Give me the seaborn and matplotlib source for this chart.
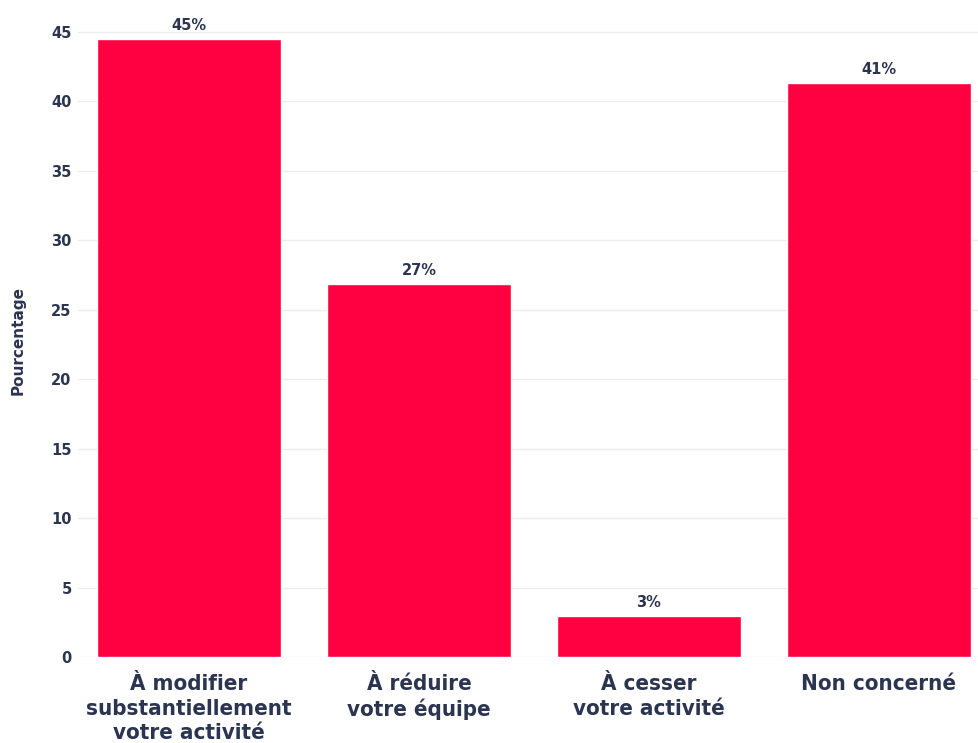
import matplotlib
matplotlib.use("Agg")
import matplotlib.pyplot as plt
import seaborn as sns
import pandas as pd

categories = ["À modifier\nsubstantiellement\nvotre activité", "À réduire\nvotre équipe",
              "À cesser\nvotre activité", "Non concerné"]
values = [44.5, 26.85, 2.95, 41.35]
labels = ["45%", "27%", "3%", "41%"]
yticks = [0, 5, 10, 15, 20, 25, 30, 35, 40, 45]

sns.set_style("white")
plt.rcParams['font.family'] = ['DejaVu Sans']
navy = "#2b3550"
red = "#ff0040"

df = pd.DataFrame({"cat": categories, "val": values})
fig = plt.figure(figsize=(9.79, 7.43), dpi=100)
ax = fig.add_axes([78/979, 0.1157, 916/979, 0.8507])
sns.barplot(data=df, x="cat", y="val", color=red, saturation=1, width=0.8, ax=ax, zorder=2)
ax.set_xlim(-0.4826, 3.5)
ax.set_ylim(0, 45.5)
ax.set_yticks(yticks)
ax.yaxis.grid(True, color="#ececec", linewidth=1, zorder=0)
ax.set_axisbelow(True)
for s in ax.spines.values():
    s.set_visible(False)
ax.tick_params(axis="both", length=0)
ax.tick_params(axis="y", pad=4.5, labelsize=10.5, labelcolor=navy)
ax.tick_params(axis="x", pad=12, labelsize=16, labelcolor=navy)
for t in ax.get_yticklabels():
    t.set_fontweight("bold")
for t in ax.get_xticklabels():
    t.set_fontweight("bold")
    t.set_fontstretch("condensed")
    t.set_linespacing(1.3)
ax.set_xlabel("")
ax.set_ylabel("Pourcentage", fontsize=11, fontweight="bold", color=navy)
ax.yaxis.set_label_coords(-52/916, 0.5)
for i, (v, l) in enumerate(zip(values, labels)):
    ax.annotate(l, (i, v), xytext=(0, 4), textcoords="offset points", ha="center", va="bottom",
                fontsize=10.5, fontweight="bold", color=navy)
fig.savefig("out.png", dpi=100)
